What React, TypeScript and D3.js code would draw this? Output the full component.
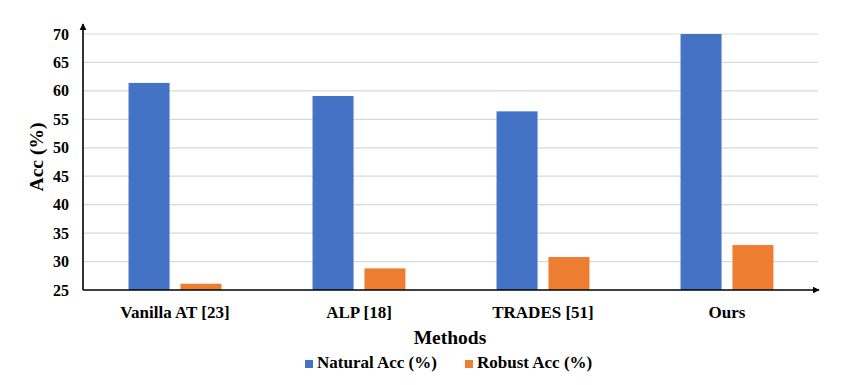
import React from 'react'
import * as d3 from 'd3'

const methods = ['Vanilla AT [23]', 'ALP [18]', 'TRADES [51]', 'Ours']
const seriesNames = ['Natural Acc (%)', 'Robust Acc (%)']
const naturalAcc = [61.4, 59.1, 56.4, 70.0]
const robustAcc = [26.1, 28.8, 30.8, 32.9]
const yTicks = [25, 30, 35, 40, 45, 50, 55, 60, 65, 70]
const colors = ['#4472C4', '#ED7D31']

const WIDTH = 864
const HEIGHT = 385
const FONT = 'Liberation Serif, Tinos, Times New Roman, DejaVu Serif, serif'

const margin = { left: 83, right: 45, top: 34, bottom: 95 }

const App = () => {
    const plotRight = WIDTH - margin.right
    const plotBottom = HEIGHT - margin.bottom

    const x0 = d3.scaleBand<string>()
        .domain(methods)
        .range([margin.left, plotRight])
        .paddingInner(0.495)
        .paddingOuter(0.2475)
    const x1 = d3.scaleBand<string>()
        .domain(seriesNames)
        .range([0, x0.bandwidth()])
        .paddingInner(0.21)
    const y = d3.scaleLinear().domain([25, 70]).range([plotBottom, margin.top])

    const series = [naturalAcc, robustAcc]
    const textStyle = { fontFamily: FONT, fontWeight: 'bold' as const }

    return (
        <svg width={WIDTH} height={HEIGHT} style={{ position: 'absolute', left: 0, top: 0 }}>
            <defs>
                <marker id="arrow" viewBox="0 0 10 10" refX="9" refY="5"
                    markerWidth="4.5" markerHeight="4.5" orient="auto-start-reverse">
                    <path d="M0,0 L10,5 L0,10 z" fill="#000" />
                </marker>
            </defs>
            <rect width={WIDTH} height={HEIGHT} fill="#fff" />

            {/* gridlines */}
            {yTicks.filter(t => t > 25).map(t => (
                <line key={t} x1={margin.left} x2={plotRight - 1} y1={y(t)} y2={y(t)}
                    stroke="#d9d9d9" strokeWidth={1.2} />
            ))}

            {/* bars */}
            {methods.map((m, i) => (
                <g key={m} transform={`translate(${x0(m)}, 0)`}>
                    {seriesNames.map((s, j) => (
                        <rect key={s}
                            x={x1(s)}
                            y={y(series[j][i])}
                            width={x1.bandwidth()}
                            height={plotBottom - y(series[j][i])}
                            fill={colors[j]} />
                    ))}
                </g>
            ))}

            {/* axes */}
            <line x1={margin.left} x2={plotRight} y1={plotBottom} y2={plotBottom}
                stroke="#000" strokeWidth={1.6} markerEnd="url(#arrow)" />
            <line x1={margin.left} x2={margin.left} y1={plotBottom} y2={margin.top - 10}
                stroke="#000" strokeWidth={1.6} markerEnd="url(#arrow)" />

            {/* y tick labels */}
            {yTicks.map(t => (
                <text key={t} x={69} y={y(t)} dy="0.35em" textAnchor="end"
                    style={textStyle} fontSize={16}>{t}</text>
            ))}

            {/* x tick labels */}
            {methods.map(m => (
                <text key={m} x={(x0(m) ?? 0) + x0.bandwidth() / 2} y={318} textAnchor="middle"
                    style={textStyle} fontSize={17}>{m}</text>
            ))}

            {/* axis titles */}
            <text x={(margin.left + plotRight) / 2 - 1} y={344} textAnchor="middle"
                style={textStyle} fontSize={19.5}>Methods</text>
            <text transform="translate(43, 157) rotate(-90)"
                textAnchor="middle" style={textStyle} fontSize={19.5}>Acc (%)</text>

            {/* legend */}
            <g transform="translate(305, 368)">
                {seriesNames.map((s, j) => (
                    <g key={s} transform={`translate(${j * 160}, 0)`}>
                        <rect x={0} y={-8} width={8} height={8} fill={colors[j]} />
                        <text x={12} y={0} style={textStyle} fontSize={17}>{s}</text>
                    </g>
                ))}
            </g>
        </svg>
    )
}

export default App
